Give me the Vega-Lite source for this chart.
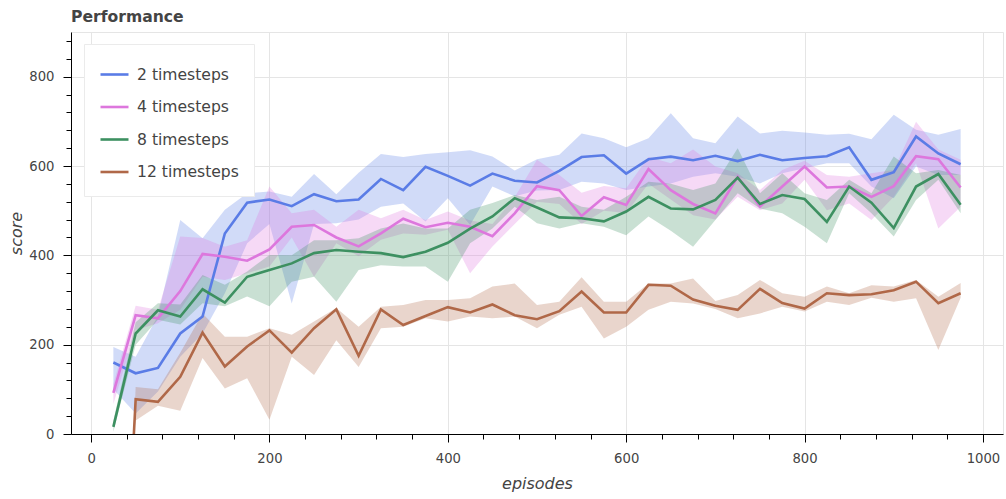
{
  "$schema": "https://vega.github.io/schema/vega-lite/v6.json",
  "width": 932,
  "height": 402,
  "autosize": {"type": "none"},
  "padding": {"left": 71, "top": 32, "right": 3, "bottom": 65},
  "title": {"text": "Performance", "anchor": "start", "frame": "group", "fontSize": 15.6, "fontWeight": "bold", "color": "#444444", "font": "DejaVu Sans", "offset": 6, "baseline": "bottom", "dy": 15},
  "data": {"values": [
    {"s":"2 timesteps","ep":25,"y":160,"lo":100,"hi":195},
    {"s":"2 timesteps","ep":50,"y":136,"lo":46,"hi":173},
    {"s":"2 timesteps","ep":75,"y":148,"lo":95,"hi":265},
    {"s":"2 timesteps","ep":100,"y":225,"lo":173,"hi":479},
    {"s":"2 timesteps","ep":125,"y":263,"lo":225,"hi":438},
    {"s":"2 timesteps","ep":150,"y":449,"lo":315,"hi":502},
    {"s":"2 timesteps","ep":175,"y":518,"lo":427,"hi":539},
    {"s":"2 timesteps","ep":200,"y":525,"lo":470,"hi":543},
    {"s":"2 timesteps","ep":225,"y":510,"lo":292,"hi":531},
    {"s":"2 timesteps","ep":250,"y":537,"lo":470,"hi":582},
    {"s":"2 timesteps","ep":275,"y":521,"lo":472,"hi":537},
    {"s":"2 timesteps","ep":300,"y":525,"lo":480,"hi":585},
    {"s":"2 timesteps","ep":325,"y":571,"lo":509,"hi":627},
    {"s":"2 timesteps","ep":350,"y":546,"lo":516,"hi":620},
    {"s":"2 timesteps","ep":375,"y":598,"lo":476,"hi":627},
    {"s":"2 timesteps","ep":400,"y":578,"lo":528,"hi":631},
    {"s":"2 timesteps","ep":425,"y":556,"lo":468,"hi":635},
    {"s":"2 timesteps","ep":450,"y":583,"lo":554,"hi":621},
    {"s":"2 timesteps","ep":475,"y":567,"lo":532,"hi":590},
    {"s":"2 timesteps","ep":500,"y":563,"lo":545,"hi":615},
    {"s":"2 timesteps","ep":525,"y":589,"lo":546,"hi":625},
    {"s":"2 timesteps","ep":550,"y":620,"lo":565,"hi":673},
    {"s":"2 timesteps","ep":575,"y":624,"lo":561,"hi":662},
    {"s":"2 timesteps","ep":600,"y":583,"lo":546,"hi":642},
    {"s":"2 timesteps","ep":625,"y":615,"lo":554,"hi":662},
    {"s":"2 timesteps","ep":650,"y":621,"lo":561,"hi":718},
    {"s":"2 timesteps","ep":675,"y":613,"lo":576,"hi":662},
    {"s":"2 timesteps","ep":700,"y":623,"lo":584,"hi":651},
    {"s":"2 timesteps","ep":725,"y":611,"lo":576,"hi":711},
    {"s":"2 timesteps","ep":750,"y":625,"lo":561,"hi":673},
    {"s":"2 timesteps","ep":775,"y":613,"lo":584,"hi":679},
    {"s":"2 timesteps","ep":800,"y":618,"lo":595,"hi":675},
    {"s":"2 timesteps","ep":825,"y":622,"lo":606,"hi":670},
    {"s":"2 timesteps","ep":850,"y":642,"lo":606,"hi":672},
    {"s":"2 timesteps","ep":875,"y":569,"lo":554,"hi":660},
    {"s":"2 timesteps","ep":900,"y":586,"lo":528,"hi":715},
    {"s":"2 timesteps","ep":925,"y":666,"lo":599,"hi":681},
    {"s":"2 timesteps","ep":950,"y":628,"lo":580,"hi":670},
    {"s":"2 timesteps","ep":975,"y":604,"lo":580,"hi":683},
    {"s":"4 timesteps","ep":25,"y":92,"lo":67,"hi":112},
    {"s":"4 timesteps","ep":50,"y":266,"lo":233,"hi":287},
    {"s":"4 timesteps","ep":75,"y":259,"lo":248,"hi":278},
    {"s":"4 timesteps","ep":100,"y":320,"lo":278,"hi":442},
    {"s":"4 timesteps","ep":125,"y":403,"lo":352,"hi":439},
    {"s":"4 timesteps","ep":150,"y":397,"lo":345,"hi":419},
    {"s":"4 timesteps","ep":175,"y":388,"lo":360,"hi":434},
    {"s":"4 timesteps","ep":200,"y":413,"lo":375,"hi":554},
    {"s":"4 timesteps","ep":225,"y":464,"lo":440,"hi":494},
    {"s":"4 timesteps","ep":250,"y":468,"lo":352,"hi":502},
    {"s":"4 timesteps","ep":275,"y":440,"lo":427,"hi":464},
    {"s":"4 timesteps","ep":300,"y":420,"lo":398,"hi":502},
    {"s":"4 timesteps","ep":325,"y":449,"lo":435,"hi":483},
    {"s":"4 timesteps","ep":350,"y":482,"lo":449,"hi":502},
    {"s":"4 timesteps","ep":375,"y":463,"lo":446,"hi":479},
    {"s":"4 timesteps","ep":400,"y":473,"lo":457,"hi":498},
    {"s":"4 timesteps","ep":425,"y":464,"lo":360,"hi":478},
    {"s":"4 timesteps","ep":450,"y":443,"lo":420,"hi":470},
    {"s":"4 timesteps","ep":475,"y":494,"lo":470,"hi":530},
    {"s":"4 timesteps","ep":500,"y":555,"lo":520,"hi":614},
    {"s":"4 timesteps","ep":525,"y":546,"lo":515,"hi":580},
    {"s":"4 timesteps","ep":550,"y":488,"lo":470,"hi":540},
    {"s":"4 timesteps","ep":575,"y":530,"lo":500,"hi":555},
    {"s":"4 timesteps","ep":600,"y":513,"lo":495,"hi":550},
    {"s":"4 timesteps","ep":625,"y":593,"lo":560,"hi":620},
    {"s":"4 timesteps","ep":650,"y":546,"lo":525,"hi":606},
    {"s":"4 timesteps","ep":675,"y":515,"lo":490,"hi":637},
    {"s":"4 timesteps","ep":700,"y":494,"lo":480,"hi":599},
    {"s":"4 timesteps","ep":725,"y":576,"lo":531,"hi":584},
    {"s":"4 timesteps","ep":750,"y":509,"lo":501,"hi":546},
    {"s":"4 timesteps","ep":775,"y":554,"lo":516,"hi":591},
    {"s":"4 timesteps","ep":800,"y":599,"lo":569,"hi":612},
    {"s":"4 timesteps","ep":825,"y":552,"lo":501,"hi":580},
    {"s":"4 timesteps","ep":850,"y":554,"lo":516,"hi":576},
    {"s":"4 timesteps","ep":875,"y":531,"lo":479,"hi":584},
    {"s":"4 timesteps","ep":900,"y":555,"lo":531,"hi":591},
    {"s":"4 timesteps","ep":925,"y":622,"lo":606,"hi":699},
    {"s":"4 timesteps","ep":950,"y":615,"lo":460,"hi":637},
    {"s":"4 timesteps","ep":975,"y":552,"lo":509,"hi":614},
    {"s":"8 timesteps","ep":25,"y":16,"lo":5,"hi":30},
    {"s":"8 timesteps","ep":50,"y":225,"lo":200,"hi":250},
    {"s":"8 timesteps","ep":75,"y":277,"lo":256,"hi":293},
    {"s":"8 timesteps","ep":100,"y":263,"lo":245,"hi":290},
    {"s":"8 timesteps","ep":125,"y":324,"lo":293,"hi":356},
    {"s":"8 timesteps","ep":150,"y":294,"lo":286,"hi":334},
    {"s":"8 timesteps","ep":175,"y":352,"lo":308,"hi":364},
    {"s":"8 timesteps","ep":200,"y":367,"lo":286,"hi":401},
    {"s":"8 timesteps","ep":225,"y":382,"lo":341,"hi":400},
    {"s":"8 timesteps","ep":250,"y":405,"lo":352,"hi":434},
    {"s":"8 timesteps","ep":275,"y":412,"lo":296,"hi":434},
    {"s":"8 timesteps","ep":300,"y":408,"lo":367,"hi":438},
    {"s":"8 timesteps","ep":325,"y":405,"lo":378,"hi":460},
    {"s":"8 timesteps","ep":350,"y":396,"lo":375,"hi":471},
    {"s":"8 timesteps","ep":375,"y":408,"lo":375,"hi":460},
    {"s":"8 timesteps","ep":400,"y":428,"lo":341,"hi":460},
    {"s":"8 timesteps","ep":425,"y":460,"lo":427,"hi":502},
    {"s":"8 timesteps","ep":450,"y":487,"lo":460,"hi":517},
    {"s":"8 timesteps","ep":475,"y":528,"lo":509,"hi":535},
    {"s":"8 timesteps","ep":500,"y":507,"lo":472,"hi":524},
    {"s":"8 timesteps","ep":525,"y":485,"lo":460,"hi":531},
    {"s":"8 timesteps","ep":550,"y":483,"lo":472,"hi":509},
    {"s":"8 timesteps","ep":575,"y":476,"lo":464,"hi":502},
    {"s":"8 timesteps","ep":600,"y":498,"lo":445,"hi":531},
    {"s":"8 timesteps","ep":625,"y":531,"lo":487,"hi":565},
    {"s":"8 timesteps","ep":650,"y":505,"lo":455,"hi":560},
    {"s":"8 timesteps","ep":675,"y":503,"lo":419,"hi":546},
    {"s":"8 timesteps","ep":700,"y":524,"lo":479,"hi":561},
    {"s":"8 timesteps","ep":725,"y":574,"lo":539,"hi":640},
    {"s":"8 timesteps","ep":750,"y":515,"lo":505,"hi":539},
    {"s":"8 timesteps","ep":775,"y":535,"lo":494,"hi":584},
    {"s":"8 timesteps","ep":800,"y":526,"lo":464,"hi":539},
    {"s":"8 timesteps","ep":825,"y":475,"lo":427,"hi":524},
    {"s":"8 timesteps","ep":850,"y":554,"lo":539,"hi":569},
    {"s":"8 timesteps","ep":875,"y":518,"lo":494,"hi":539},
    {"s":"8 timesteps","ep":900,"y":461,"lo":442,"hi":621},
    {"s":"8 timesteps","ep":925,"y":554,"lo":524,"hi":584},
    {"s":"8 timesteps","ep":950,"y":582,"lo":569,"hi":591},
    {"s":"8 timesteps","ep":975,"y":513,"lo":494,"hi":580},
    {"s":"12 timesteps","ep":48,"y":0,"lo":0,"hi":10},
    {"s":"12 timesteps","ep":50,"y":78,"lo":30,"hi":105},
    {"s":"12 timesteps","ep":75,"y":72,"lo":63,"hi":100},
    {"s":"12 timesteps","ep":100,"y":128,"lo":52,"hi":182},
    {"s":"12 timesteps","ep":125,"y":227,"lo":170,"hi":270},
    {"s":"12 timesteps","ep":150,"y":151,"lo":102,"hi":218},
    {"s":"12 timesteps","ep":175,"y":196,"lo":125,"hi":218},
    {"s":"12 timesteps","ep":200,"y":232,"lo":32,"hi":237},
    {"s":"12 timesteps","ep":225,"y":182,"lo":173,"hi":222},
    {"s":"12 timesteps","ep":250,"y":237,"lo":132,"hi":252},
    {"s":"12 timesteps","ep":275,"y":279,"lo":210,"hi":282},
    {"s":"12 timesteps","ep":300,"y":175,"lo":150,"hi":240},
    {"s":"12 timesteps","ep":325,"y":279,"lo":237,"hi":285},
    {"s":"12 timesteps","ep":350,"y":244,"lo":240,"hi":289},
    {"s":"12 timesteps","ep":375,"y":264,"lo":259,"hi":300},
    {"s":"12 timesteps","ep":400,"y":284,"lo":252,"hi":300},
    {"s":"12 timesteps","ep":425,"y":272,"lo":263,"hi":304},
    {"s":"12 timesteps","ep":450,"y":290,"lo":259,"hi":330},
    {"s":"12 timesteps","ep":475,"y":266,"lo":263,"hi":337},
    {"s":"12 timesteps","ep":500,"y":257,"lo":237,"hi":289},
    {"s":"12 timesteps","ep":525,"y":275,"lo":267,"hi":296},
    {"s":"12 timesteps","ep":550,"y":319,"lo":285,"hi":351},
    {"s":"12 timesteps","ep":575,"y":272,"lo":214,"hi":296},
    {"s":"12 timesteps","ep":600,"y":272,"lo":240,"hi":296},
    {"s":"12 timesteps","ep":625,"y":334,"lo":278,"hi":337},
    {"s":"12 timesteps","ep":650,"y":332,"lo":296,"hi":337},
    {"s":"12 timesteps","ep":675,"y":301,"lo":292,"hi":348},
    {"s":"12 timesteps","ep":700,"y":287,"lo":280,"hi":298},
    {"s":"12 timesteps","ep":725,"y":278,"lo":259,"hi":311},
    {"s":"12 timesteps","ep":750,"y":325,"lo":270,"hi":345},
    {"s":"12 timesteps","ep":775,"y":293,"lo":285,"hi":315},
    {"s":"12 timesteps","ep":800,"y":281,"lo":274,"hi":307},
    {"s":"12 timesteps","ep":825,"y":315,"lo":296,"hi":330},
    {"s":"12 timesteps","ep":850,"y":311,"lo":289,"hi":315},
    {"s":"12 timesteps","ep":875,"y":313,"lo":305,"hi":333},
    {"s":"12 timesteps","ep":900,"y":322,"lo":296,"hi":330},
    {"s":"12 timesteps","ep":925,"y":341,"lo":304,"hi":345},
    {"s":"12 timesteps","ep":950,"y":293,"lo":188,"hi":307},
    {"s":"12 timesteps","ep":975,"y":315,"lo":305,"hi":338}
  ]},
  "encoding": {
    "x": {
      "field": "ep", "type": "quantitative", "title": "episodes",
      "scale": {"domain": [-22.5, 1022.5], "nice": false, "zero": false},
      "axis": {
        "values": [0,40,80,120,160,200,240,280,320,360,400,440,480,520,560,600,640,680,720,760,800,840,880,920,960,1000],
        "format": "d",
        "labelExpr": "datum.value % 200 === 0 ? datum.label : ''",
        "tickSize": {"condition": {"test": "datum.value % 200 === 0", "value": 8}, "value": 5},
        "gridOpacity": {"condition": {"test": "datum.value % 200 === 0", "value": 1}, "value": 0},
        "labelOverlap": false, "labelFlush": false, "labelPadding": 10, "titlePadding": 11
      }
    }
  },
  "layer": [
    {
      "mark": {"type": "area", "opacity": 0.28},
      "encoding": {
        "y": {
          "field": "lo", "type": "quantitative", "title": "score",
          "scale": {"domain": [0, 900], "nice": false, "zero": false},
          "axis": {
            "values": [0,40,80,120,160,200,240,280,320,360,400,440,480,520,560,600,640,680,720,760,800,840,880],
            "format": "d",
            "labelExpr": "datum.value % 200 === 0 ? datum.label : ''",
            "tickSize": {"condition": {"test": "datum.value % 200 === 0", "value": 8}, "value": 5},
            "gridOpacity": {"condition": {"test": "datum.value % 200 === 0", "value": 1}, "value": 0},
            "labelOverlap": false, "labelFlush": false, "labelPadding": 9, "titlePadding": 4
          }
        },
        "y2": {"field": "hi"},
        "color": {
          "field": "s", "type": "nominal",
          "scale": {"domain": ["2 timesteps", "4 timesteps", "8 timesteps", "12 timesteps"], "range": ["#5a7ce6", "#dd77dd", "#3d9061", "#b06848"]},
          "legend": {
            "orient": "none", "legendX": 13, "legendY": 12, "title": null,
            "symbolType": "stroke", "symbolSize": 784, "symbolStrokeWidth": 2.6, "symbolOpacity": 1,
            "labelFontSize": 15.6, "labelColor": "#444444", "labelFont": "DejaVu Sans", "labelOffset": 7, "labelLimit": 0,
            "padding": 15, "rowPadding": 7.5, "fillColor": "white", "strokeColor": "#ebebeb"
          }
        }
      }
    },
    {
      "mark": {"type": "line", "strokeWidth": 2.6},
      "encoding": {
        "y": {
          "field": "y", "type": "quantitative", "title": "score",
          "axis": {
            "values": [0,40,80,120,160,200,240,280,320,360,400,440,480,520,560,600,640,680,720,760,800,840,880],
            "format": "d",
            "labelExpr": "datum.value % 200 === 0 ? datum.label : ''",
            "tickSize": {"condition": {"test": "datum.value % 200 === 0", "value": 8}, "value": 5},
            "gridOpacity": {"condition": {"test": "datum.value % 200 === 0", "value": 1}, "value": 0},
            "labelOverlap": false, "labelFlush": false, "labelPadding": 9, "titlePadding": 4
          }
        },
        "color": {
          "field": "s", "type": "nominal",
          "scale": {"domain": ["2 timesteps", "4 timesteps", "8 timesteps", "12 timesteps"], "range": ["#5a7ce6", "#dd77dd", "#3d9061", "#b06848"]},
          "legend": {
            "orient": "none", "legendX": 13, "legendY": 12, "title": null,
            "symbolType": "stroke", "symbolSize": 784, "symbolStrokeWidth": 2.6, "symbolOpacity": 1,
            "labelFontSize": 15.6, "labelColor": "#444444", "labelFont": "DejaVu Sans", "labelOffset": 7, "labelLimit": 0,
            "padding": 15, "rowPadding": 7.5, "fillColor": "white", "strokeColor": "#ebebeb"
          }
        }
      }
    }
  ],
  "config": {
    "font": "DejaVu Sans",
    "view": {"stroke": "#e5e5e5"},
    "axis": {
      "domainColor": "black", "domainWidth": 1, "tickColor": "black", "tickWidth": 1,
      "gridColor": "#e5e5e5", "gridWidth": 1,
      "labelFont": "DejaVu Sans", "labelFontSize": 13.2, "labelColor": "#444444",
      "titleFont": "DejaVu Sans", "titleFontSize": 16, "titleFontStyle": "italic", "titleFontWeight": "normal", "titleColor": "#444444"
    }
  }
}
